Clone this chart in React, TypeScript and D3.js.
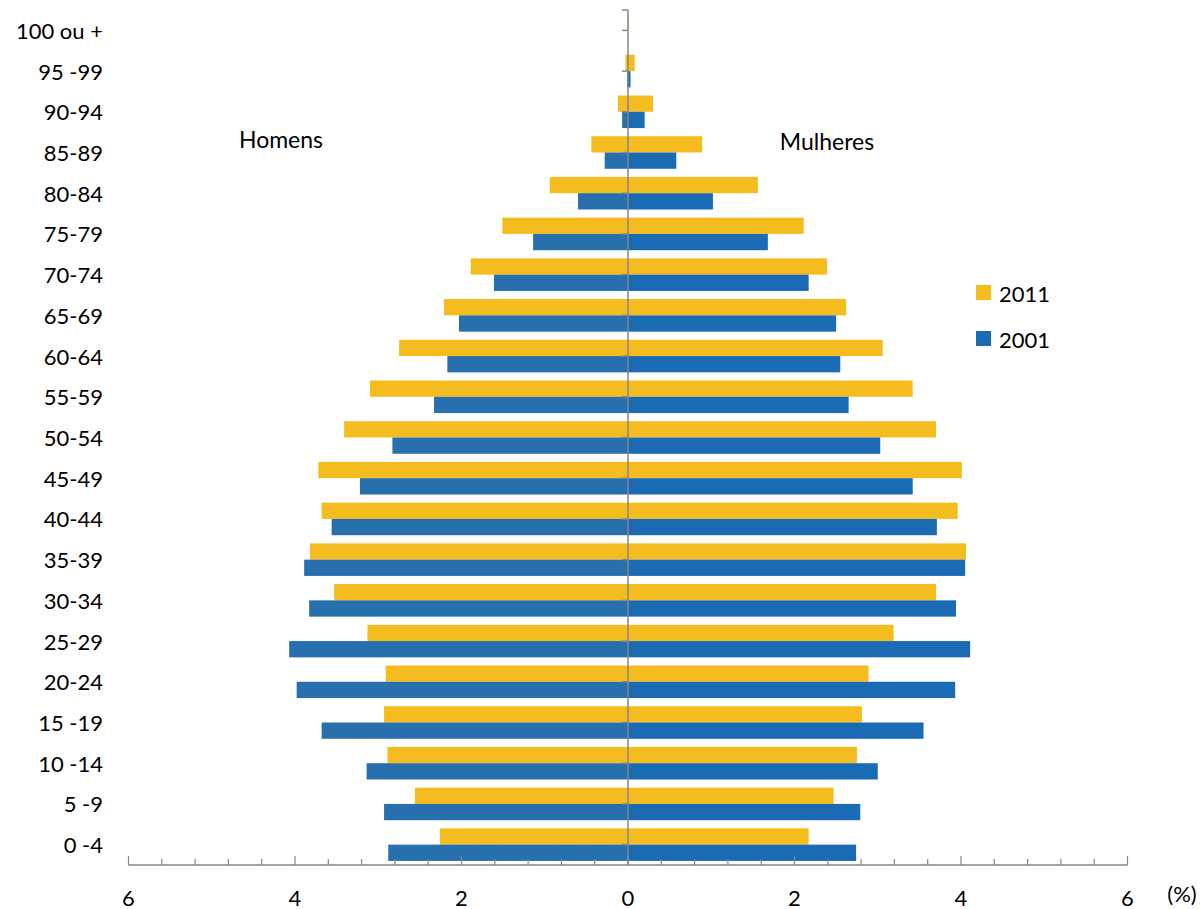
import React from "react";
import * as d3 from "d3";

const categories = ["0 -4", "5 -9", "10 -14", "15 -19", "20-24", "25-29", "30-34", "35-39", "40-44", "45-49", "50-54", "55-59", "60-64", "65-69", "70-74", "75-79", "80-84", "85-89", "90-94", "95 -99", "100 ou +"];
const men2011 = [2.26, 2.56, 2.89, 2.93, 2.91, 3.13, 3.53, 3.82, 3.68, 3.72, 3.41, 3.10, 2.75, 2.21, 1.89, 1.51, 0.94, 0.44, 0.12, 0.03, 0.0];
const men2001 = [2.88, 2.93, 3.14, 3.68, 3.98, 4.07, 3.83, 3.89, 3.56, 3.22, 2.83, 2.33, 2.17, 2.03, 1.61, 1.14, 0.60, 0.28, 0.07, 0.01, 0.0];
const women2011 = [2.17, 2.47, 2.75, 2.81, 2.89, 3.19, 3.70, 4.06, 3.96, 4.01, 3.70, 3.42, 3.06, 2.62, 2.39, 2.11, 1.56, 0.89, 0.30, 0.08, 0.01];
const women2001 = [2.74, 2.79, 3.00, 3.55, 3.93, 4.11, 3.94, 4.05, 3.71, 3.42, 3.03, 2.65, 2.55, 2.50, 2.17, 1.68, 1.02, 0.58, 0.20, 0.03, 0.0];
const xTickLabels = [-6, -4, -2, 0, 2, 4, 6];
const seriesNames = ["2011", "2001"];

const YELLOW = "#F5BC20";
const BLUE_M = "#286FAD";
const BLUE_W = "#1A6BB4";
const AXIS = "#868686";
const FONT = "Lato, 'Open Sans', sans-serif";

export default function App() {
  const W = 1200, H = 909;
  const x = d3.scaleLinear().domain([-6, 6]).range([128.5, 1127.5]);
  const y = d3.scaleBand<string>()
    .domain([...categories].reverse())
    .range([10, 865])
    .paddingInner(0.2)
    .paddingOuter(0.1);
  const bw = y.bandwidth();
  const half = bw / 2;
  const x0 = x(0);
  const axisY = 865;
  const minorTicks = d3.range(-15, 16).map((i) => i * 0.4);

  return (
    <svg width={W} height={H} style={{ position: "absolute", left: 0, top: 0, background: "#fff" }} fontFamily={FONT}>
      {categories.map((c, i) => {
        const yc = (y(c) as number);
        return (
          <g key={c}>
            <rect x={x(-men2011[i])} y={yc} width={x0 - x(-men2011[i])} height={half} fill={YELLOW} />
            <rect x={x(-men2001[i])} y={yc + half} width={x0 - x(-men2001[i])} height={half} fill={BLUE_M} />
            <rect x={x0} y={yc} width={x(women2011[i]) - x0} height={half} fill={YELLOW} />
            <rect x={x0} y={yc + half} width={x(women2001[i]) - x0} height={half} fill={BLUE_W} />
            <text x={103} y={yc + half} textAnchor="end" dominantBaseline="central" fontSize={22} fill="#000">{c}</text>
          </g>
        );
      })}
      {/* vertical axis */}
      <line x1={x0} x2={x0} y1={10} y2={axisY} stroke={AXIS} strokeWidth={1.5} />
      <line x1={x0 - 6} x2={x0} y1={10} y2={10} stroke={AXIS} strokeWidth={1.5} />
      {categories.map((c) => {
        const yc = (y(c) as number) + half;
        return <line key={"t" + c} x1={x0 - 6} x2={x0} y1={yc} y2={yc} stroke={AXIS} strokeWidth={1.5} />;
      })}
      {/* horizontal axis */}
      <line x1={x(-6)} x2={x(6)} y1={axisY} y2={axisY} stroke={AXIS} strokeWidth={1.5} />
      {minorTicks.map((v, i) => {
        const major = Math.abs(Math.round(v * 10) % 20) === 0;
        return <line key={"m" + i} x1={x(v)} x2={x(v)} y1={axisY} y2={axisY - (major ? 9 : 6)} stroke={AXIS} strokeWidth={1.2} />;
      })}
      {xTickLabels.map((v) => (
        <text key={"l" + v} x={x(v)} y={897} textAnchor="middle" dominantBaseline="central" fontSize={22} fill="#000">{Math.abs(v)}</text>
      ))}
      <text x={1182} y={893} textAnchor="middle" dominantBaseline="central" fontSize={22} fill="#000">(%)</text>
      <text x={281} y={139} textAnchor="middle" dominantBaseline="central" fontSize={23} fill="#000">Homens</text>
      <text x={827} y={141} textAnchor="middle" dominantBaseline="central" fontSize={23} fill="#000">Mulheres</text>
      {/* legend */}
      <rect x={976} y={285} width={15} height={15} fill={YELLOW} />
      <text x={999} y={293} dominantBaseline="central" fontSize={22} fill="#000">{seriesNames[0]}</text>
      <rect x={976} y={331} width={15} height={15} fill={BLUE_W} />
      <text x={999} y={339} dominantBaseline="central" fontSize={22} fill="#000">{seriesNames[1]}</text>
    </svg>
  );
}
